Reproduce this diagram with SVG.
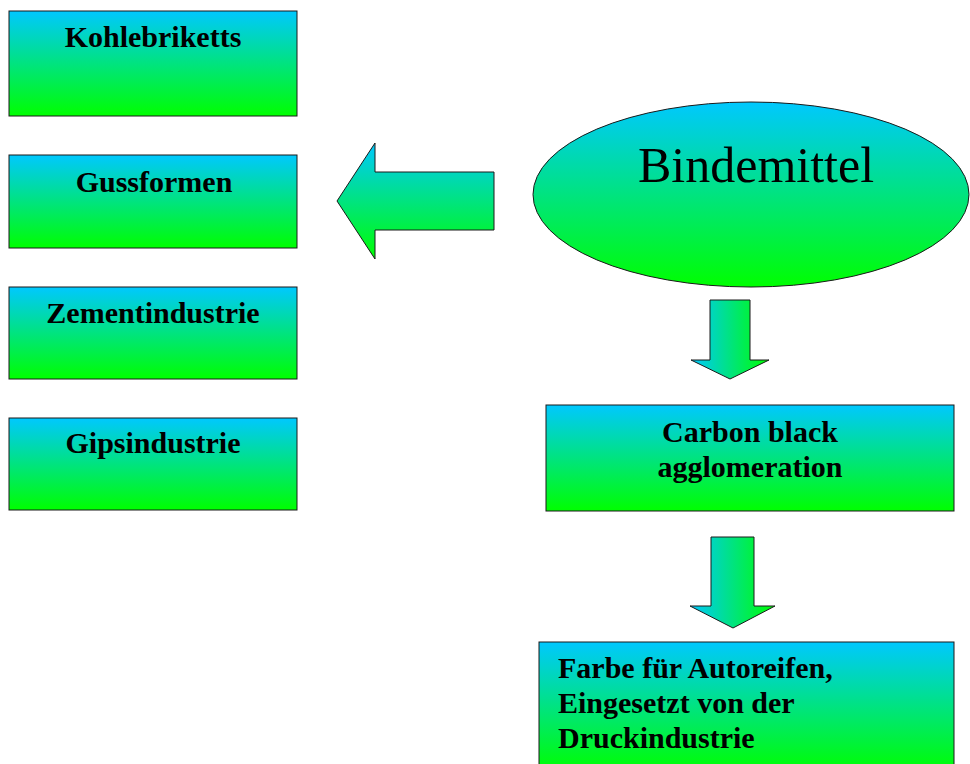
<svg xmlns="http://www.w3.org/2000/svg" width="970" height="764" viewBox="0 0 970 764">
<defs>
<linearGradient id="gv" x1="0" y1="0" x2="0" y2="1">
<stop offset="0" stop-color="#00c8ff"/>
<stop offset="1" stop-color="#00ff00"/>
</linearGradient>
<linearGradient id="gh" x1="0" y1="0" x2="1" y2="0">
<stop offset="0" stop-color="#00c8ff"/>
<stop offset="1" stop-color="#00ff00"/>
</linearGradient>
<style>
.box{fill:url(#gv);stroke:#1a1a1a;stroke-width:1}
.arr{stroke:#1a1a1a;stroke-width:1}
.t{font-family:"Liberation Serif","Times New Roman",serif;font-weight:bold;font-size:30px;fill:#000}
.c{text-anchor:middle}
</style>
</defs>
<rect width="970" height="764" fill="#fff"/>
<g id="connectors">
<polygon class="arr" fill="url(#gv)" points="337,201 375,143 375,172 494,172 494,230 375,230 375,259"/>
<polygon class="arr" fill="url(#gh)" points="710,300 750,300 750,360 769,360 730,379 691,360 710,360"/>
<polygon class="arr" fill="url(#gh)" points="711,537 754,537 754,606 775,606 733,628 690,606 711,606"/>
</g>
<g id="kohlebriketts">
<rect class="box" x="9" y="11" width="288" height="105"/>
<text class="t c" x="153" y="47">Kohlebriketts</text>
</g>
<g id="gussformen">
<rect class="box" x="9" y="155" width="288" height="93"/>
<text class="t c" x="154" y="192">Gussformen</text>
</g>
<g id="zementindustrie">
<rect class="box" x="9" y="287" width="288" height="92"/>
<text class="t c" x="153" y="323">Zementindustrie</text>
</g>
<g id="gipsindustrie">
<rect class="box" x="9" y="418" width="288" height="92"/>
<text class="t c" x="153" y="453">Gipsindustrie</text>
</g>
<g id="bindemittel">
<ellipse cx="751" cy="194.5" rx="218" ry="92.5" fill="url(#gv)" stroke="#1a1a1a" stroke-width="1"/>
<text x="756" y="182" text-anchor="middle" font-family="'Liberation Serif','Times New Roman',serif" font-size="50" fill="#000">Bindemittel</text>
</g>
<g id="carbon">
<rect class="box" x="546" y="405" width="408" height="106"/>
<text class="t c" x="750" y="442">Carbon black</text>
<text class="t c" x="750" y="477">agglomeration</text>
</g>
<g id="farbe">
<rect class="box" x="539" y="642" width="415" height="130"/>
<text class="t" x="558" y="678">Farbe für Autoreifen,</text>
<text class="t" x="558" y="713">Eingesetzt von der</text>
<text class="t" x="558" y="748">Druckindustrie</text>
</g>
</svg>
